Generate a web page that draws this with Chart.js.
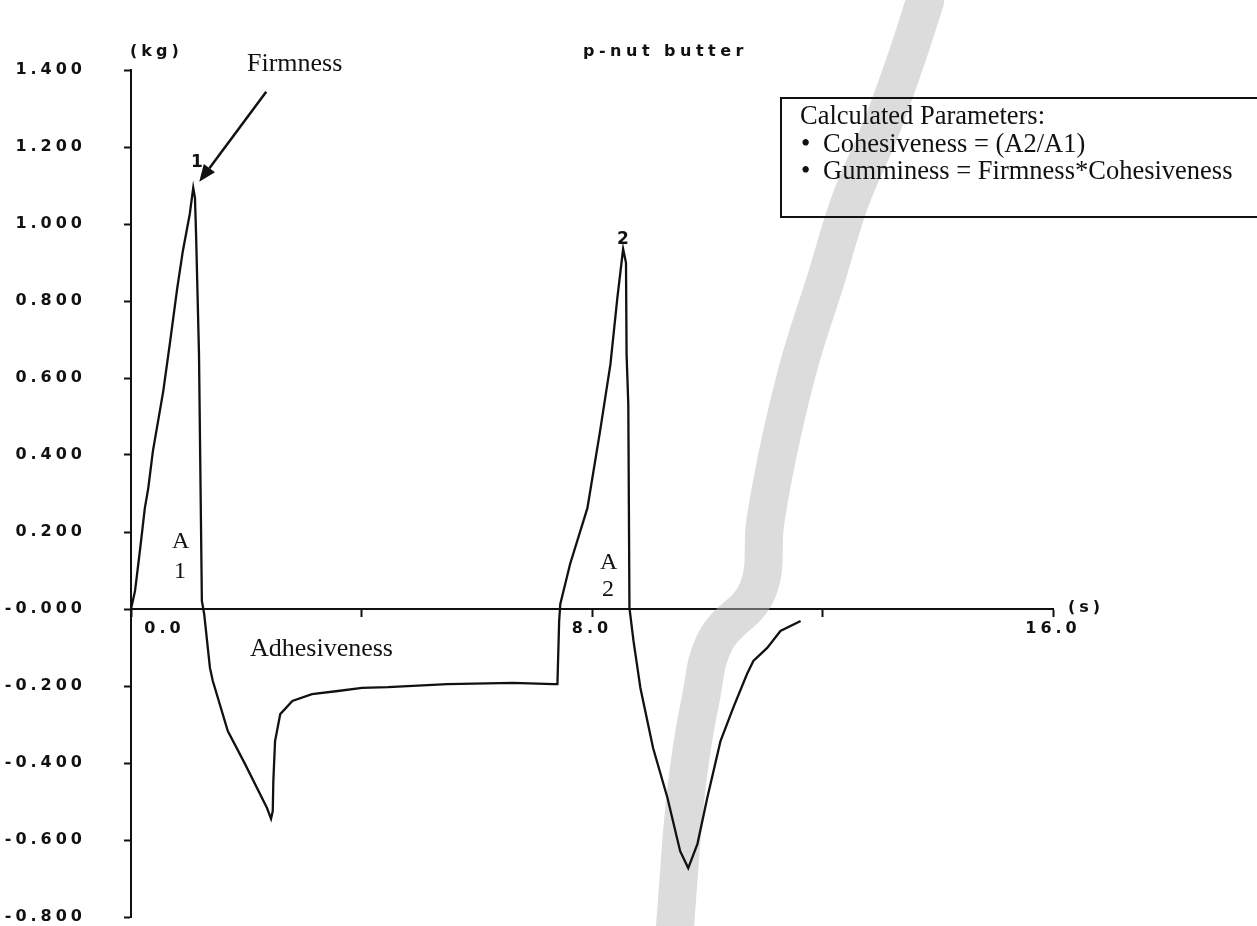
<!DOCTYPE html>
<html>
<head>
<meta charset="utf-8">
<script src="https://cdn.jsdelivr.net/npm/chart.js@4.4.1/dist/chart.umd.min.js"></script>
<style>
  html, body { margin: 0; padding: 0; background: #fff; }
  #wrap { position: relative; width: 1257px; height: 926px; overflow: hidden; }
  canvas { position: absolute; left: 0; top: 0; }
  .t { position: absolute; line-height: 1; white-space: nowrap; color: #111; }
  .sans { font-family: "DejaVu Sans", sans-serif; font-weight: bold; }
  .serif { font-family: "Liberation Serif", "Times New Roman", serif; }
  #box { position: absolute; left: 780px; top: 97px; width: 490px; height: 117px;
         border: 2px solid #111;
         font-family: "Liberation Serif", "Times New Roman", serif; font-size: 26.5px; color: #111; }
  #box div { position: absolute; line-height: 27.5px; white-space: nowrap; }
</style>
</head>
<body>
<div id="wrap">
  <canvas id="c" width="1257" height="926"></canvas>
  <div class="t sans" style="left:130px;top:43px;font-size:16px;letter-spacing:4px;">(kg)</div>
  <div class="t sans" style="left:583px;top:43px;font-size:16px;letter-spacing:4.5px;">p-nut butter</div>
  <div class="t serif" style="left:247px;top:50px;font-size:26px;">Firmness</div>
  <div class="t sans" style="left:191px;top:153px;font-size:17px;">1</div>
  <div class="t sans" style="left:617px;top:230px;font-size:17px;">2</div>
  <div class="t serif" style="left:172px;top:528px;font-size:24px;">A</div>
  <div class="t serif" style="left:174px;top:558px;font-size:24px;">1</div>
  <div class="t serif" style="left:600px;top:549px;font-size:24px;">A</div>
  <div class="t serif" style="left:602px;top:576px;font-size:24px;">2</div>
  <div class="t serif" style="left:250px;top:635px;font-size:26px;">Adhesiveness</div>
  <div class="t sans" style="left:1068px;top:599px;font-size:16px;letter-spacing:4px;">(s)</div>
  <div id="box">
    <div style="left:18px;top:3px;">Calculated Parameters:</div>
    <div style="left:19px;top:30.5px;">&#8226;</div>
    <div style="left:41px;top:30.5px;">Cohesiveness = (A2/A1)</div>
    <div style="left:19px;top:58px;">&#8226;</div>
    <div style="left:41px;top:58px;">Gumminess = Firmness*Cohesiveness</div>
  </div>
</div>
<script>
// ---- trace (time in s, force in kg) ----
const timeS = [
  0.00, 0.07, 0.16, 0.24, 0.30, 0.38, 0.56, 0.68, 0.80, 0.90, 1.02, 1.08,
  1.11, 1.13, 1.18, 1.23, 1.27, 1.37, 1.42, 1.68, 1.98, 2.36, 2.43,
  2.46, 2.47, 2.50, 2.59, 2.80, 3.14, 3.59, 4.01, 4.46, 5.49, 6.63, 7.33,
  7.40, 7.43, 7.45, 7.62, 7.92, 8.14, 8.32, 8.44, 8.54,
  8.59, 8.60, 8.63, 8.65, 8.72, 8.84, 9.06, 9.31, 9.53, 9.67,
  9.83, 10.00, 10.23, 10.45, 10.69, 10.80, 11.04, 11.27, 11.62
];
const forceKg = [
  0.000, 0.047, 0.158, 0.262, 0.314, 0.410, 0.566, 0.696, 0.831, 0.930, 1.026, 1.094,
  1.068, 0.969, 0.662, 0.021, -0.013, -0.153, -0.187, -0.317, -0.403, -0.517, -0.545,
  -0.525, -0.447, -0.343, -0.273, -0.239, -0.221, -0.213, -0.205, -0.203, -0.195, -0.192, -0.195,
  -0.195, -0.031, 0.013, 0.117, 0.262, 0.462, 0.636, 0.808, 0.935,
  0.899, 0.662, 0.532, 0.003, -0.083, -0.205, -0.361, -0.491, -0.629, -0.673,
  -0.610, -0.491, -0.343, -0.257, -0.169, -0.135, -0.101, -0.057, -0.031
];
// grey scanner shadow band visible in the reference (centre line)
const shadowT = [13.78, 13.44, 13.00, 12.48, 12.05, 11.61, 11.27, 11.01, 10.87, 10.14, 9.88, 9.70, 9.58, 9.50, 9.44];
const shadowKg = [1.579, 1.423, 1.242, 1.060, 0.852, 0.644, 0.436, 0.229, 0.047, -0.083, -0.239, -0.395, -0.551, -0.706, -0.826];

const yTickValues = [1.4, 1.2, 1.0, 0.8, 0.6, 0.4, 0.2, 0.0, -0.2, -0.4, -0.6, -0.8];
const xTickStep = 4;
const xLabelValues = [0, 8, 16];

const points = timeS.map((t, i) => ({ x: t, y: forceKg[i] }));
const shadowPoints = shadowT.map((t, i) => ({ x: t, y: shadowKg[i] }));

const letterSpacingPlugin = {
  id: 'letterSpacing',
  beforeDraw(chart) { chart.ctx.letterSpacing = '4px'; },
  afterDraw(chart) { chart.ctx.letterSpacing = '0px'; }
};

const arrowPlugin = {
  id: 'firmnessArrow',
  afterDatasetsDraw(chart) {
    const xs = chart.scales.x, ys = chart.scales.y;
    let iMax = 0;
    forceKg.forEach((v, i) => { if (v > forceKg[iMax]) iMax = i; });
    const px = xs.getPixelForValue(timeS[iMax]);
    const py = ys.getPixelForValue(forceKg[iMax]);
    const tipX = px + 6, tipY = py - 6;
    const tailX = tipX + 67, tailY = tipY - 90;
    const ctx = chart.ctx;
    ctx.save();
    ctx.letterSpacing = '0px';
    ctx.strokeStyle = '#111';
    ctx.fillStyle = '#111';
    ctx.lineWidth = 2.5;
    const ang = Math.atan2(tipY - tailY, tipX - tailX);
    const headLen = 17, headW = 7;
    const bx = tipX - headLen * Math.cos(ang), by = tipY - headLen * Math.sin(ang);
    ctx.beginPath();
    ctx.moveTo(tailX, tailY);
    ctx.lineTo(bx, by);
    ctx.stroke();
    ctx.beginPath();
    ctx.moveTo(tipX, tipY);
    ctx.lineTo(bx + headW * Math.sin(ang), by - headW * Math.cos(ang));
    ctx.lineTo(bx - headW * Math.sin(ang), by + headW * Math.cos(ang));
    ctx.closePath();
    ctx.fill();
    ctx.restore();
  }
};

const tickFont = { family: 'DejaVu Sans', weight: 'bold', size: 16 };

new Chart(document.getElementById('c'), {
  type: 'line',
  data: {
    datasets: [{
      label: 'p-nut butter',
      data: points,
      borderColor: '#111',
      borderWidth: 2.3,
      pointRadius: 0,
      tension: 0,
      fill: false,
      order: 0
    }, {
      label: 'scan shadow',
      data: shadowPoints,
      borderColor: 'rgba(185,185,185,0.5)',
      borderWidth: 38,
      borderCapStyle: 'round',
      borderJoinStyle: 'round',
      pointRadius: 0,
      tension: 0.4,
      fill: false,
      clip: false,
      order: 1
    }]
  },
  options: {
    responsive: false,
    animation: false,
    layout: { padding: { left: 0, top: 70, right: 204, bottom: 9 } },
    plugins: { legend: { display: false }, tooltip: { enabled: false }, title: { display: false } },
    scales: {
      x: {
        type: 'linear',
        min: 0, max: 16,
        position: { y: 0 },
        afterFit: (s) => { s.height = 0; },
        grid: { drawOnChartArea: false, drawTicks: true, tickLength: 7, tickColor: '#111', tickWidth: 2 },
        border: { display: true, color: '#111', width: 2 },
        ticks: {
          stepSize: xTickStep,
          autoSkip: false,
          maxRotation: 0,
          padding: 3,
          color: '#111',
          font: tickFont,
          callback: (v) => {
            if (!xLabelValues.includes(v)) return '';
            const s = v.toFixed(1);
            return v === 0 ? '       ' + s : s;
          }
        }
      },
      y: {
        type: 'linear',
        min: -0.8, max: 1.4,
        position: 'left',
        afterFit: (s) => { s.width = 131; s.paddingTop = 0; s.paddingBottom = 0; },
        afterBuildTicks: (s) => { s.ticks = yTickValues.map(v => ({ value: v })); },
        grid: { drawOnChartArea: false, drawTicks: true, tickLength: 7, tickColor: '#111', tickWidth: 2 },
        border: { display: true, color: '#111', width: 2 },
        ticks: {
          padding: 38,
          color: '#111',
          font: tickFont,
          callback: (v) => (Math.abs(v) < 1e-9 ? '-0.000' : v.toFixed(3))
        }
      }
    }
  },
  plugins: [letterSpacingPlugin, arrowPlugin]
});
</script>
</body>
</html>
